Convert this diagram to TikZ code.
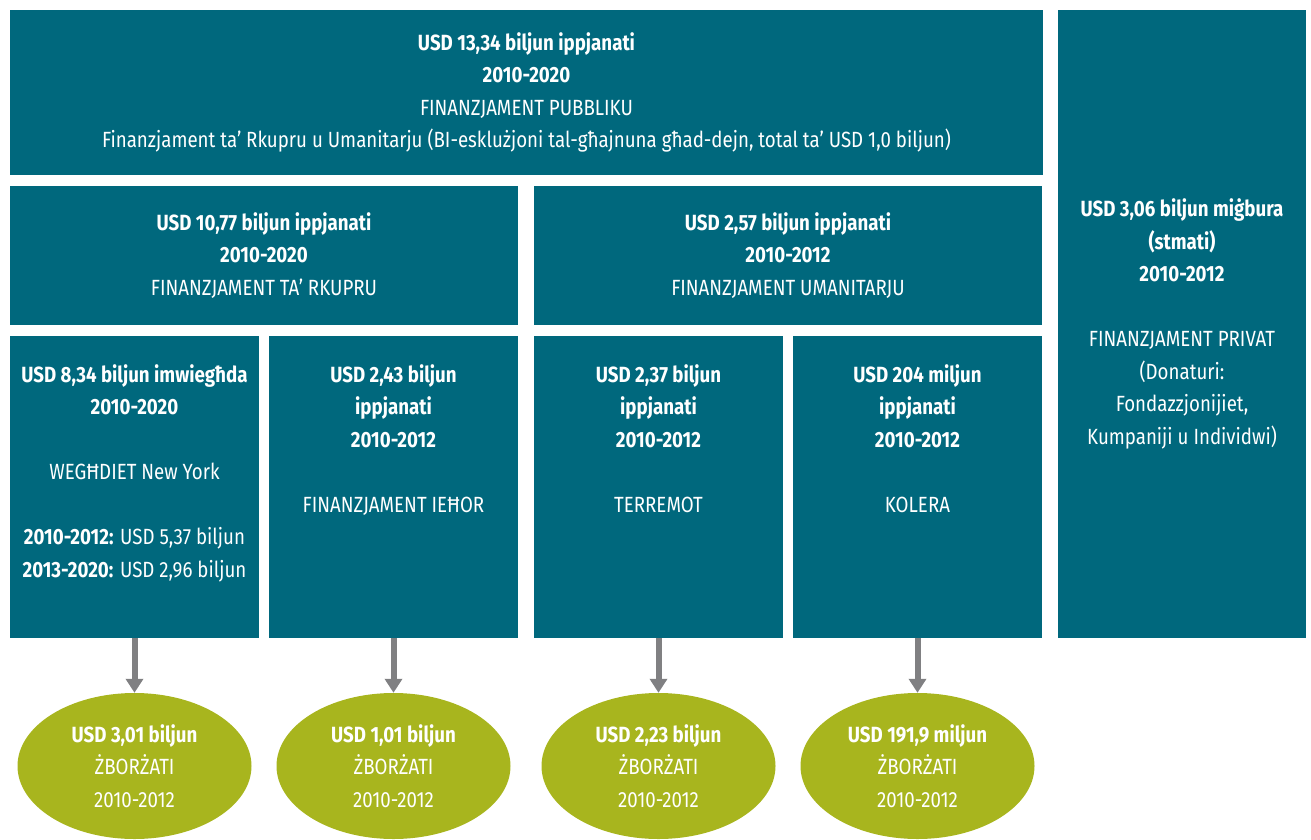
\documentclass[tikz,border=0pt]{standalone}
\usepackage{fontspec}
\setmainfont{Fira Sans}[FakeStretch=0.85]
\usetikzlibrary{shapes.geometric,arrows.meta}
\definecolor{tealbox}{RGB}{0,104,125}
\definecolor{olivebox}{RGB}{168,181,30}
\definecolor{arrowgray}{RGB}{128,128,130}
\tikzset{
  box/.style={fill=tealbox, text=white, inner sep=0pt, align=center},
  blob/.style={ellipse, fill=olivebox, text=white, inner sep=0pt, align=center,
    minimum width=234pt, minimum height=146pt},
  flow/.style={draw=arrowgray, line width=6pt, -{Triangle[width=17pt,length=14pt]}}
}
\begin{document}
\begin{tikzpicture}[x=1pt,y=-1pt, font=\fontsize{22}{32.5}\selectfont]
\useasboundingbox (0,0) rectangle (1311,840);
\node[box, minimum width=1033pt, minimum height=165pt] (top) at (526.5,92.5)
  {\textbf{USD 13,34 biljun ippjanati}\\ \textbf{2010-2020}\\ FINANZJAMENT PUBBLIKU\\
   Finanzjament ta’ Rkupru u Umanitarju (BI-esklużjoni tal-għajnuna għad-dejn, total ta’ USD 1,0 biljun)};
\node[box, minimum width=248pt, minimum height=628pt] (priv) at (1182,324)
  {\textbf{USD 3,06 biljun miġbura}\\ \textbf{(stmati)}\\ \textbf{2010-2012}\\ ~\\
   FINANZJAMENT PRIVAT\\ (Donaturi:\\ Fondazzjonijiet,\\ Kumpaniji u Individwi)};
\node[box, minimum width=508pt, minimum height=139pt] (rec) at (264,255.5)
  {\textbf{USD 10,77 biljun ippjanati}\\ \textbf{2010-2020}\\ FINANZJAMENT TA’ RKUPRU};
\node[box, minimum width=508pt, minimum height=139pt] (hum) at (788,255.5)
  {\textbf{USD 2,57 biljun ippjanati}\\ \textbf{2010-2012}\\ FINANZJAMENT UMANITARJU};
\node[box, minimum width=249pt, minimum height=302pt] (ny) at (134.5,487)
  {\textbf{USD 8,34 biljun imwiegħda}\\ \textbf{2010-2020}\\ ~\\ WEGĦDIET New York\\ ~\\
   \textbf{2010-2012:} USD 5,37 biljun\\ \textbf{2013-2020:} USD 2,96 biljun\\ ~};
\node[box, minimum width=249pt, minimum height=302pt] (oth) at (393.5,487)
  {\textbf{USD 2,43 biljun}\\ \textbf{ippjanati}\\ \textbf{2010-2012}\\ ~\\ FINANZJAMENT IEĦOR\\ ~\\ ~\\ ~};
\node[box, minimum width=249pt, minimum height=302pt] (eq) at (658.5,487)
  {\textbf{USD 2,37 biljun}\\ \textbf{ippjanati}\\ \textbf{2010-2012}\\ ~\\ TERREMOT\\ ~\\ ~\\ ~};
\node[box, minimum width=249pt, minimum height=302pt] (chol) at (917.5,487)
  {\textbf{USD 204 miljun}\\ \textbf{ippjanati}\\ \textbf{2010-2012}\\ ~\\ KOLERA\\ ~\\ ~\\ ~};
\node[blob] (e1) at (134.5,766) {\textbf{USD 3,01 biljun}\\ ŻBORŻATI\\ 2010-2012};
\node[blob] (e2) at (393.5,766) {\textbf{USD 1,01 biljun}\\ ŻBORŻATI\\ 2010-2012};
\node[blob] (e3) at (658.5,766) {\textbf{USD 2,23 biljun}\\ ŻBORŻATI\\ 2010-2012};
\node[blob] (e4) at (917.5,766) {\textbf{USD 191,9 miljun}\\ ŻBORŻATI\\ 2010-2012};
\draw[flow] (ny) -- (e1);
\draw[flow] (oth) -- (e2);
\draw[flow] (eq) -- (e3);
\draw[flow] (chol) -- (e4);
\end{tikzpicture}
\end{document}
